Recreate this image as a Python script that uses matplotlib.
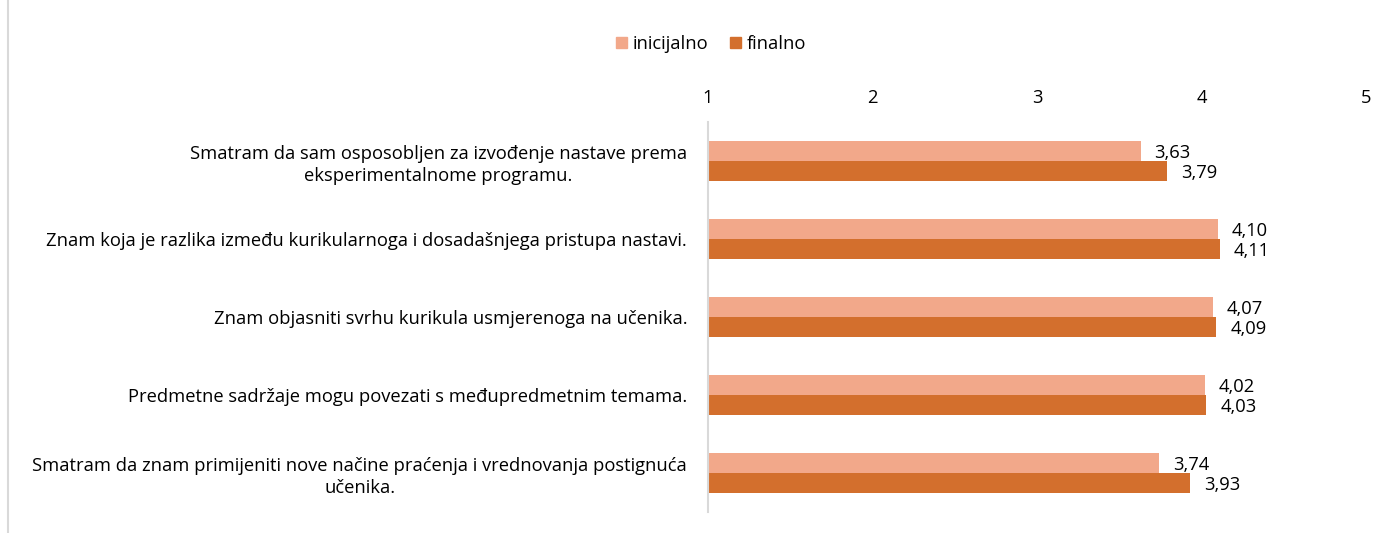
import matplotlib
matplotlib.use("Agg")
import matplotlib.pyplot as plt
from matplotlib.lines import Line2D
from matplotlib.patches import Patch
import numpy as np

plt.rcParams['font.family'] = ['Open Sans', 'DejaVu Sans']

categories = [
    "Smatram da sam osposobljen za izvođenje nastave prema\neksperimentalnome programu.",
    "Znam koja je razlika između kurikularnoga i dosadašnjega pristupa nastavi.",
    "Znam objasniti svrhu kurikula usmjerenoga na učenika.",
    "Predmetne sadržaje mogu povezati s međupredmetnim temama.",
    "Smatram da znam primijeniti nove načine praćenja i vrednovanja postignuća\nučenika.",
]
inicijalno = [3.63, 4.10, 4.07, 4.02, 3.74]
finalno = [3.79, 4.11, 4.09, 4.03, 3.93]
series_names = ["inicijalno", "finalno"]
xticks = [1, 2, 3, 4, 5]

c_init = "#F2A88A"
c_fin = "#D36F2D"

fig = plt.figure(figsize=(14, 5.33), dpi=100)
ax = fig.add_axes([708/1400, 1-512/533, (1366-708)/1400, (512-122)/533])

y = np.arange(len(categories))
h = 0.256
ax.barh(y - h/2, np.array(inicijalno) - 1, left=1, height=h, color=c_init, edgecolor='none')
ax.barh(y + h/2, np.array(finalno) - 1, left=1, height=h, color=c_fin, edgecolor='none')

fs = 13.2
for yi, v in zip(y, inicijalno):
    ax.text(v + 0.085, yi - h/2 + 0.03, f"{v:.2f}".replace('.', ','), va='center', ha='left', fontsize=fs, color='#000000')
for yi, v in zip(y, finalno):
    ax.text(v + 0.085, yi + h/2 + 0.02, f"{v:.2f}".replace('.', ','), va='center', ha='left', fontsize=fs, color='#000000')

ax.set_xlim(1, 5)
ax.set_ylim(len(categories) - 0.5, -0.5)
ax.set_xticks(xticks)
ax.set_xticklabels([str(t) for t in xticks], fontsize=fs)
ax.xaxis.tick_top()
ax.tick_params(axis='x', length=0, pad=11)
ax.set_yticks(y)
ax.set_yticklabels(categories, fontsize=fs, multialignment='center', linespacing=1.3)
ax.tick_params(axis='y', length=0, pad=15)
for s in ['top', 'right', 'bottom']:
    ax.spines[s].set_visible(False)
ax.spines['left'].set_color('#D9D9D9')
ax.spines['left'].set_linewidth(1.5)

handles = [Patch(color=c_init, label=series_names[0]), Patch(color=c_fin, label=series_names[1])]
fig.legend(handles=handles, loc='center', bbox_to_anchor=(711/1400, 1-44/533), ncol=2, frameon=False,
           fontsize=fs, handlelength=0.6, handleheight=0.6, handletextpad=0.3, columnspacing=1.2)

fig.add_artist(Line2D([8/1400, 8/1400], [0, 1], transform=fig.transFigure, color='#D9D9D9', linewidth=1.5))

fig.savefig("out.png", dpi=100)
